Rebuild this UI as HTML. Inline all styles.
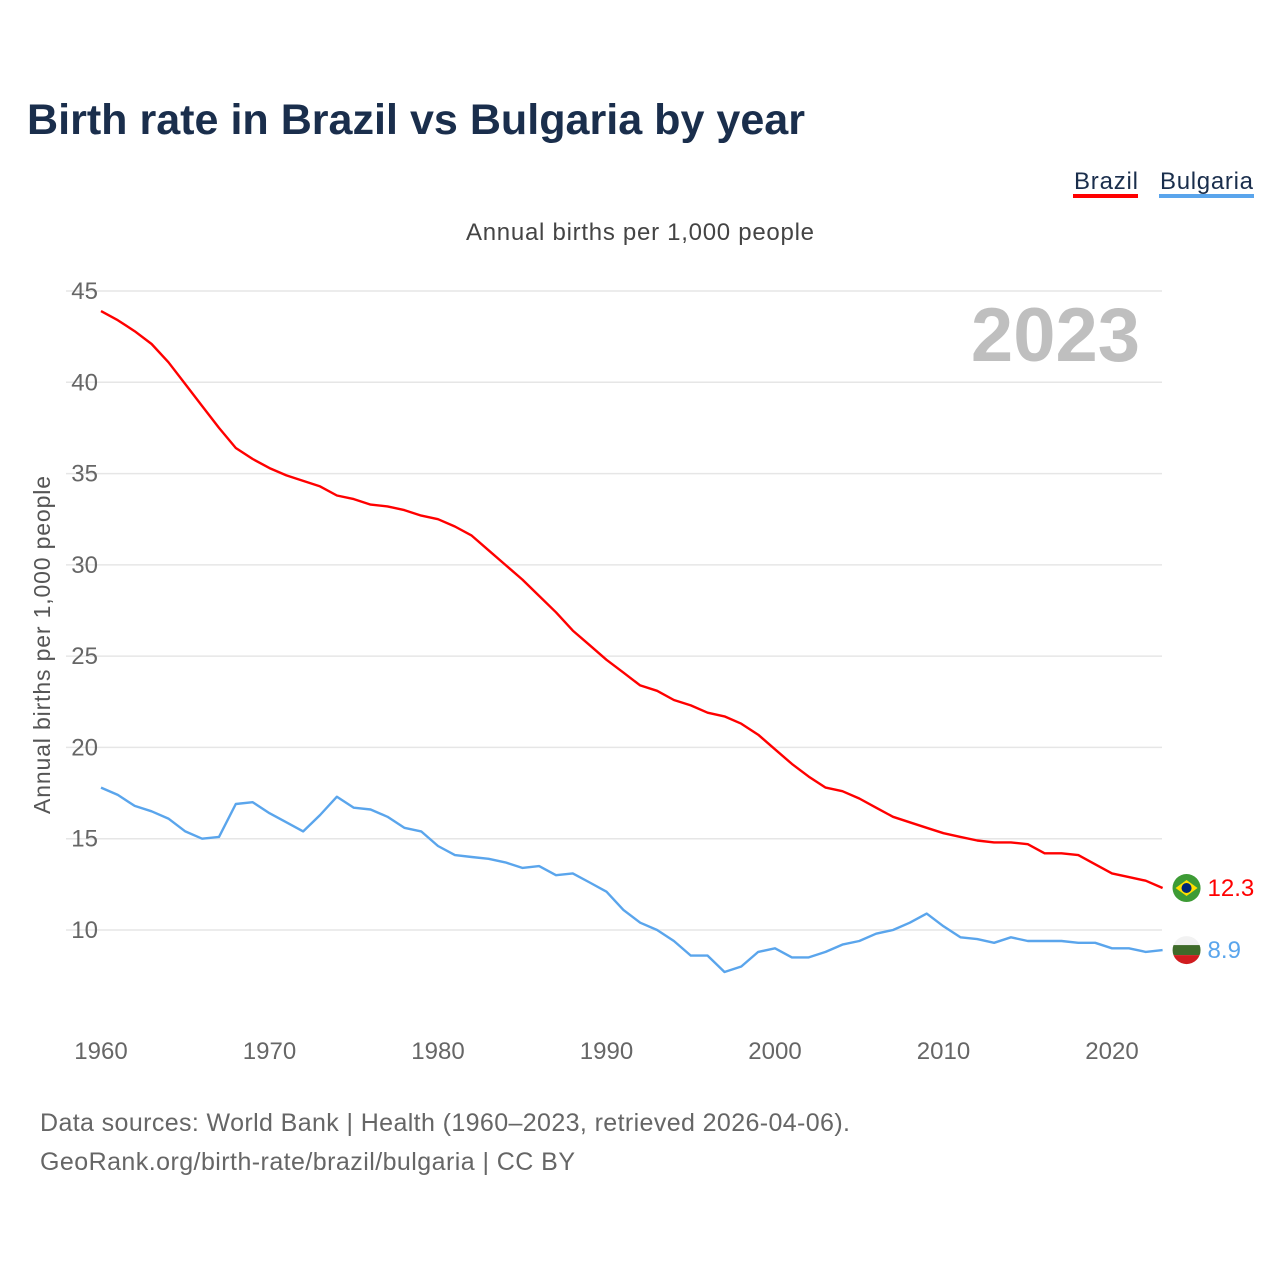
<!DOCTYPE html>
<html><head><meta charset="utf-8"><style>
body{margin:0;background:#fff;font-family:"Liberation Sans",sans-serif;}
</style></head><body>
<svg id="chart" width="1280" height="1280" xmlns="http://www.w3.org/2000/svg" font-family="Liberation Sans, sans-serif">
<text x="27" y="134" font-size="43" font-weight="bold" fill="#1a2e4c" textLength="778" lengthAdjust="spacingAndGlyphs">Birth rate in Brazil vs Bulgaria by year</text>
<g><text x="1074" y="189" font-size="24" fill="#1a2e4c" textLength="64">Brazil</text><rect x="1073" y="194" width="65" height="4" fill="#ff0000"/></g>
<g><text x="1160" y="189" font-size="24" fill="#1a2e4c" textLength="93">Bulgaria</text><rect x="1159" y="194" width="95" height="4" fill="#5aa5ec"/></g>
<text x="466" y="240" font-size="24" fill="#444" textLength="348">Annual births per 1,000 people</text>
<text transform="translate(50,645) rotate(-90)" font-size="23" fill="#555" text-anchor="middle" textLength="338">Annual births per 1,000 people</text>
<text x="1140" y="361" font-size="76" font-weight="bold" fill="#bfbfbf" text-anchor="end">2023</text>
<g id="grid"></g><g id="xt"></g><g id="lines"></g><g id="ends"></g>
<text x="40" y="1131" font-size="25" fill="#666" textLength="810">Data sources: World Bank | Health (1960–2023, retrieved 2026-04-06).</text>
<text x="40" y="1170" font-size="25" fill="#666" textLength="535">GeoRank.org/birth-rate/brazil/bulgaria | CC BY</text>
</svg>
<script>
const years=[];for(let y=1960;y<=2023;y++)years.push(y);
const brazil=[43.9,43.4,42.8,42.1,41.1,39.9,38.7,37.5,36.4,35.8,35.3,34.9,34.6,34.3,33.8,33.6,33.3,33.2,33.0,32.7,32.5,32.1,31.6,30.8,30.0,29.2,28.3,27.4,26.4,25.6,24.8,24.1,23.4,23.1,22.6,22.3,21.9,21.7,21.3,20.7,19.9,19.1,18.4,17.8,17.6,17.2,16.7,16.2,15.9,15.6,15.3,15.1,14.9,14.8,14.8,14.7,14.2,14.2,14.1,13.6,13.1,12.9,12.7,12.3];
const bulgaria=[17.8,17.4,16.8,16.5,16.1,15.4,15.0,15.1,16.9,17.0,16.4,15.9,15.4,16.3,17.3,16.7,16.6,16.2,15.6,15.4,14.6,14.1,14.0,13.9,13.7,13.4,13.5,13.0,13.1,12.6,12.1,11.1,10.4,10.0,9.4,8.6,8.6,7.7,8.0,8.8,9.0,8.5,8.5,8.8,9.2,9.4,9.8,10.0,10.4,10.9,10.2,9.6,9.5,9.3,9.6,9.4,9.4,9.4,9.3,9.3,9.0,9.0,8.8,8.9];
const yTicks=[10,15,20,25,30,35,40,45];
const xTicks=[1960,1970,1980,1990,2000,2010,2020];
const NS="http://www.w3.org/2000/svg";
const X=y=>101+(y-1960)*16.85;
const Y=v=>930-(v-10)*18.257;
function mk(t,a,p,txt){const e=document.createElementNS(NS,t);for(const k in a)e.setAttribute(k,a[k]);if(txt!=null)e.textContent=txt;p.appendChild(e);return e;}
const grid=document.getElementById('grid');
yTicks.forEach(v=>{
const l=mk('line',{x1:66,x2:1162,y1:Y(v),y2:Y(v),stroke:'#e6e6e6','stroke-width':1.5},grid);


const t=mk('text',{x:98,y:Y(v)+8,'font-size':24,fill:'#666','text-anchor':'end'},grid,String(v));


});
const xt=document.getElementById('xt');
xTicks.forEach(v=>{
const t=mk('text',{x:X(v),y:1059,'font-size':24,fill:'#666','text-anchor':'middle'},xt,String(v));


});
const lines=document.getElementById('lines');
[[brazil,'#ff0000','brazil-line'],[bulgaria,'#5aa5ec','bulgaria-line']].forEach(([d,c,n])=>{
const p=mk('path',{d:d.map((v,i)=>(i?'L':'M')+X(years[i]).toFixed(1)+','+Y(v).toFixed(1)).join(''),fill:'none',stroke:c,'stroke-width':2.4,'stroke-linejoin':'round'},lines);


});
const ends=document.getElementById('ends');
const last=years.length-1;
const fx=X(years[last])+24;
let g=mk('g',{},ends);


let by=Y(brazil[last]);
mk('circle',{cx:fx,cy:by,r:14,fill:'#3d9b35'},g);
mk('polygon',{points:`${fx-11},${by} ${fx},${by-8} ${fx+11},${by} ${fx},${by+8}`,fill:'#fedf00'},g);
mk('circle',{cx:fx,cy:by,r:5,fill:'#002776'},g);
let t=mk('text',{x:fx+21,y:by+8,'font-size':24,fill:'#ff0000'},ends,brazil[last].toFixed(1));


g=mk('g',{},ends);


let gy=Y(bulgaria[last]);
const clip=mk('clipPath',{id:'bc'},g);
mk('circle',{cx:fx,cy:gy,r:14},clip);
mk('rect',{x:fx-14,y:gy-14,width:28,height:10,fill:'#f2f2f2','clip-path':'url(#bc)'},g);
mk('rect',{x:fx-14,y:gy-5,width:28,height:10,fill:'#3f6b2a','clip-path':'url(#bc)'},g);
mk('rect',{x:fx-14,y:gy+5,width:28,height:10,fill:'#d01c1f','clip-path':'url(#bc)'},g);
t=mk('text',{x:fx+21,y:gy+8,'font-size':24,fill:'#5aa5ec'},ends,bulgaria[last].toFixed(1));


</script>
</body></html>
